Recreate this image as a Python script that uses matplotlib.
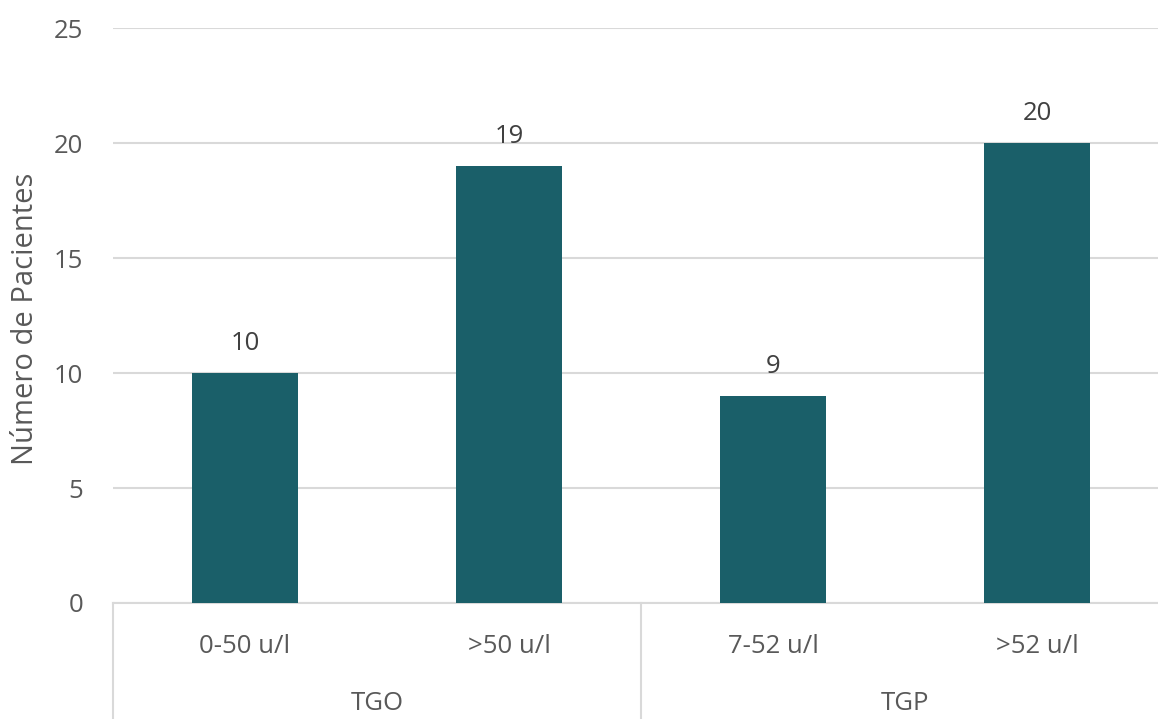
import matplotlib.pyplot as plt
from matplotlib.lines import Line2D

# Data
groups = ['TGO', 'TGP']
categories = ['0-50 u/l', '>50 u/l', '7-52 u/l', '>52 u/l']
cat_group = [0, 0, 1, 1]
patients = [10, 19, 9, 20]
yticks = [0, 5, 10, 15, 20, 25]

bar_color = '#1a5f69'
text_color = '#595959'
grid_color = '#d9d9d9'

plt.rcParams['font.family'] = ['Open Sans', 'DejaVu Sans']

W, H = 1158, 719
fig = plt.figure(figsize=(W / 100, H / 100), dpi=100)
# plot area in pixel terms: x 113..1169 (slightly past right edge), y 28..603
ax = fig.add_axes([113 / W, (H - 603) / H, (1169 - 113) / W, (603 - 28) / H])

x = list(range(len(categories)))
bars = ax.bar(x, patients, width=0.405, color=bar_color, zorder=3)

for xi, v in zip(x, patients):
    ax.annotate(str(v), (xi, v), xytext=(0, 12), textcoords='offset points',
                ha='center', va='bottom', fontsize=18.5, color='#404040')

ax.set_xlim(-0.5, len(categories) - 0.5)
ax.set_ylim(0, 25)
ax.set_yticks(yticks)
ax.tick_params(axis='y', length=0, pad=21.5, labelsize=18.5, labelcolor=text_color)
ax.tick_params(axis='x', length=0, pad=22.5, labelsize=18.5, labelcolor=text_color)
ax.set_xticks(x)
ax.set_xticklabels(categories)
ax.grid(axis='y', color=grid_color, linewidth=1.5, zorder=0)
for s in ['top', 'right', 'left']:
    ax.spines[s].set_visible(False)
ax.spines['bottom'].set_color(grid_color)
ax.spines['bottom'].set_linewidth(1.5)

ax.set_ylabel('Número de Pacientes', fontsize=21, color=text_color)
ax.yaxis.set_label_coords(-0.069, 0.494)

# group separators and group labels below the axis
trans = ax.get_xaxis_transform()
seps = [-0.5]
for gi in range(len(groups)):
    idx = [i for i, g in enumerate(cat_group) if g == gi]
    seps.append(max(idx) + 0.5)
for sx in seps:
    ax.add_line(Line2D([sx, sx], [0, -0.25], transform=trans, color=grid_color,
                       linewidth=1.5, clip_on=False))
for gi, g in enumerate(groups):
    idx = [i for i, c in enumerate(cat_group) if c == gi]
    cx = (min(idx) + max(idx)) / 2
    ax.text(cx, -(703 - 603) / (603 - 28), g, transform=trans, ha='center', va='center',
            fontsize=18.5, color=text_color)

fig.savefig('out.png', dpi=100)
